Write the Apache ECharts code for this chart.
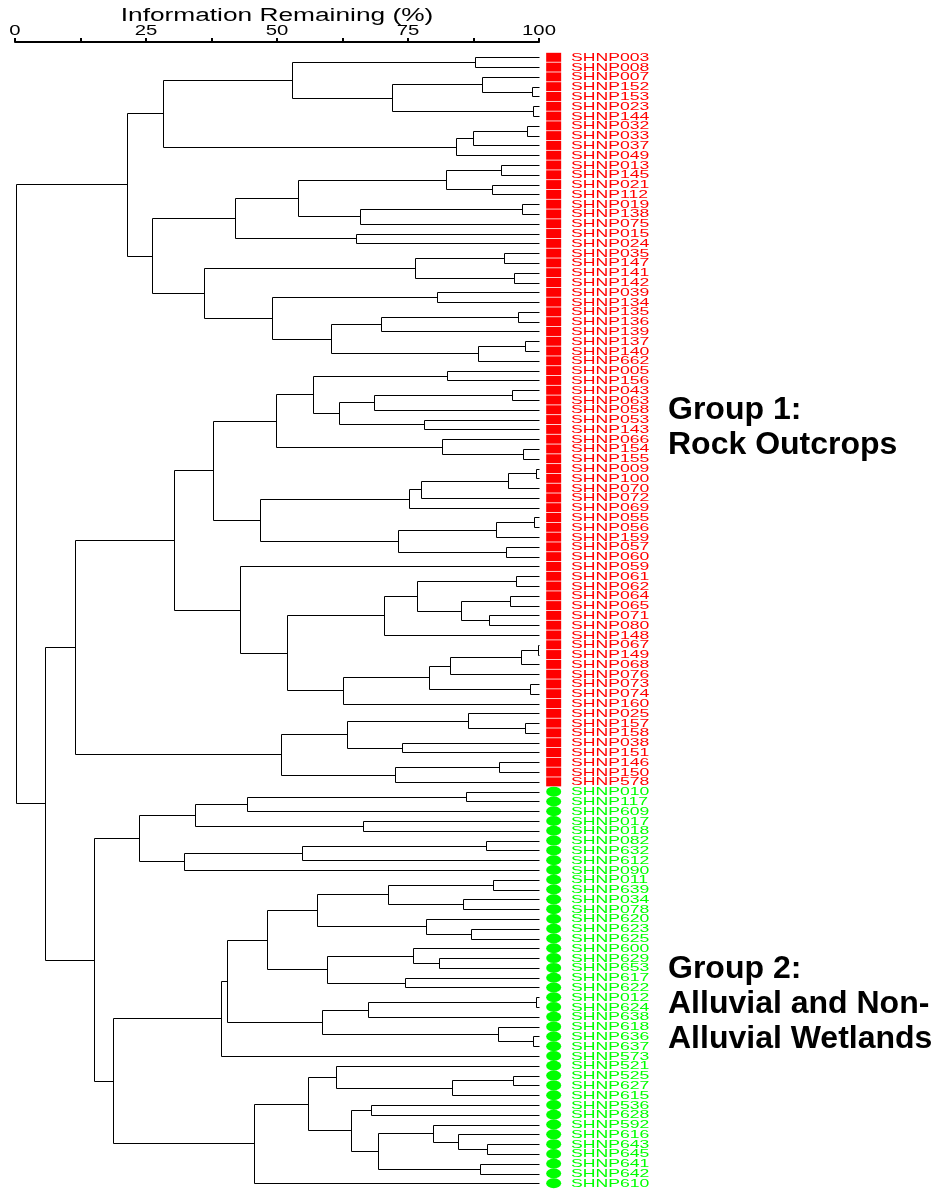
<!DOCTYPE html>
<html><head><meta charset="utf-8">
<script src="https://cdn.jsdelivr.net/npm/echarts@6/dist/echarts.min.js"></script>
<style>html,body{margin:0;padding:0;background:#fff}#c{width:937px;height:1189px}</style>
</head><body><div id="c"></div>
<script>
// ---------- data ----------
const prefix = 'SHNP';
const xTicks = [0, 25, 50, 75, 100];
const axisTitle = 'Information Remaining (%)';
const groupLabels = ['Group 1:\nRock Outcrops', 'Group 2:\nAlluvial and Non-\nAlluvial Wetlands'];
const groupColors = ['#ff0000', '#00ff00'];

// nested clusters: [information remaining at merge (%), left, right]; leaves are sample codes
const A1 = [28.3,
  [52.9, [87.8, '003', '008'], [71.9, [89.2, '007', [98.6, '152', '153']], [98.8, '023', '144']]],
  [84.1, [87.4, [97.8, '032', '033'], '037'], '049']
];
const A2 = [26.1,
  [42.0,
    [54.0, [82.2, [92.8, '013', '145'], [91.0, '021', '112']], [65.8, [96.8, '019', '138'], '075']],
    [65.0, '015', '024']
  ],
  [36.0,
    [76.3, [93.4, '035', '147'], [95.3, '141', '142']],
    [49.0, [80.6, '039', '134'], [60.4, [69.9, [96.0, '135', '136'], '139'], [88.4, [97.4, '137', '140'], '662']]]
  ]
];
const A = [21.4, A1, A2];
const B1a1 = [37.7,
  [49.9,
    [56.8, [82.5, '005', '156'], [61.8, [68.5, [94.8, '043', '063'], '058'], [78.1, '053', '143']]],
    [81.4, '066', [97.0, '154', '155']]
  ],
  [46.7,
    [75.1, [77.5, [94.1, [99.4, '009', '100'], '070'], '072'], '069'],
    [73.1, [91.8, [99.0, '055', '056'], '159'], [93.7, '057', '060']]
  ]
];
const B1a2 = [43.0, '059',
  [52.0,
    [70.4, [76.7, [95.7, '061', '062'], [85.1, [94.4, '064', '065'], [90.4, '071', '080']]], '148'],
    [62.6, [79.1, [83.1, [96.5, [99.8, '067', '149'], '068'], '076'], [98.2, '073', '074']], '160']
  ]
];
const B1b = [50.8,
  [63.4, [86.5, '025', [97.4, '157', '158']], [73.9, '038', '151']],
  [72.5, [92.4, '146', '150'], '578']
];
const B1 = [11.5, [30.3, B1a1, B1a2], B1b];
const G1 = [23.7,
  [34.3, [44.3, [86.1, '010', '117'], '609'], [66.5, '017', '018']],
  [32.3, [54.8, [89.8, '082', '632'], '612'], '090']
];
const G2a = [39.3,
  [40.5,
    [48.0,
      [57.6, [71.1, [91.3, '011', '639'], [85.5, '034', '078']], [78.5, '620', [87.1, '623', '625']]],
      [59.6, [75.9, '600', [80.9, '629', '653']], [74.4, '617', '622']]
    ],
    [58.6, [67.3, [99.4, '012', '624'], '638'], [92.1, '618', [98.8, '636', '637']]]
  ],
  '573'
];
const G2b = [45.6,
  [56.0,
    [61.3, '521', [83.4, [95.0, '525', '627'], '615']],
    [64.2, [67.9, '536', '628'], [69.3, [79.8, '592', [84.5, '616', [90.1, '643', '645']]], [88.8, '641', '642']]]
  ],
  '610'
];
const G = [15.0, G1, [18.7, G2a, G2b]];
const root = [0.2, A, [5.8, B1, G]];

// ---------- build dendrogram segments ----------
const leaves = [], leafGroup = [], links = [];
function walk(node, g) {
  if (node === G) g = 1;
  if (typeof node === 'string') {
    leaves.push(prefix + node); leafGroup.push(g);
    return { y: leaves.length - 1, h: 100 };
  }
  const a = walk(node[1], g), b = walk(node[2], g);
  links.push([node[0], a.y, b.y, a.h, b.h]);
  return { y: (a.y + b.y) / 2, h: node[0] };
}
walk(root, 0);

const FONT = '"Liberation Sans", Arial, sans-serif';
const MARK_X = 102.8;
const n = leaves.length;

const chart = echarts.init(document.getElementById('c'), null, { renderer: 'canvas' });
const snap = v => Math.round(v) + 0.5;

chart.setOption({
  animation: false,
  backgroundColor: '#fff',
  grid: { left: 15, width: 524, top: 42, height: 1146.3, outerBoundsMode: 'none', containLabel: false },
  xAxis: {
    type: 'value', position: 'top', min: 0, max: 100, interval: 12.5,
    axisLine: { show: true, onZero: false, lineStyle: { color: '#000', width: 2 } },
    axisTick: { show: true, inside: false, length: 4, lineStyle: { color: '#000', width: 2 } },
    axisLabel: { show: false }, splitLine: { show: false }
  },
  yAxis: { type: 'value', inverse: true, min: -1.563, max: n - 1 + 0.51, show: false },
  graphic: [
    { type: 'text', x: 277, y: 16, scaleX: 1.46, style: { text: axisTitle, font: '18px ' + FONT, fill: '#000', align: 'center', verticalAlign: 'middle' } },
    { type: 'text', x: 668, y: 393, style: { text: groupLabels[0], font: 'bold 32px ' + FONT, fill: '#000', lineHeight: 35, align: 'left', verticalAlign: 'top' } },
    { type: 'text', x: 668, y: 952, style: { text: groupLabels[1], font: 'bold 32px ' + FONT, fill: '#000', lineHeight: 35, align: 'left', verticalAlign: 'top' } }
  ],
  series: [
    {
      type: 'custom', name: 'tree', clip: false, silent: true,
      data: links, encode: { x: [0, 3, 4], y: [1, 2] },
      renderItem: (params, api) => {
        const h = api.value(0), y1 = api.value(1), y2 = api.value(2), h1 = api.value(3), h2 = api.value(4);
        const p = v => { const c = api.coord(v); return [snap(c[0]), snap(c[1])]; };
        return { type: 'polyline', shape: { points: [p([h1, y1]), p([h, y1]), p([h, y2]), p([h2, y2])] },
          style: { stroke: '#000', lineWidth: 1, fill: 'none' } };
      }
    },
    {
      type: 'scatter', name: 'Group 1', clip: false, silent: true, symbol: 'rect', symbolSize: [15, 9],
      itemStyle: { color: groupColors[0], opacity: 1 },
      data: leaves.map((l, i) => leafGroup[i] === 0 ? [MARK_X, i] : null).filter(d => d)
    },
    {
      type: 'scatter', name: 'Group 2', clip: false, silent: true, symbol: 'circle', symbolSize: [15, 10],
      itemStyle: { color: groupColors[1], opacity: 1 },
      data: leaves.map((l, i) => leafGroup[i] === 1 ? [MARK_X, i] : null).filter(d => d)
    },
    {
      type: 'custom', name: 'labels', clip: false, silent: true,
      data: leaves.map((l, i) => [100, i]), encode: { x: 0, y: 1 },
      renderItem: (params, api) => {
        const i = api.value(1);
        const c = api.coord([100, i]);
        return { type: 'text', x: c[0] + 32, y: c[1] + 0.5, scaleX: 1.6,
          style: { text: leaves[i], font: '11px ' + FONT, fill: groupColors[leafGroup[i]], align: 'left', verticalAlign: 'middle' } };
      }
    },
    {
      type: 'custom', name: 'ticks', clip: false, silent: true,
      data: xTicks.map(v => [v, 0]), encode: { x: 0, y: 1 },
      renderItem: (params, api) => {
        const v = api.value(0);
        const c = api.coord([v, 0]);
        return { type: 'text', x: c[0], y: 31, scaleX: 1.45,
          style: { text: String(v), font: '14px ' + FONT, fill: '#000', align: 'center', verticalAlign: 'middle' } };
      }
    }
  ]
});
</script></body></html>
